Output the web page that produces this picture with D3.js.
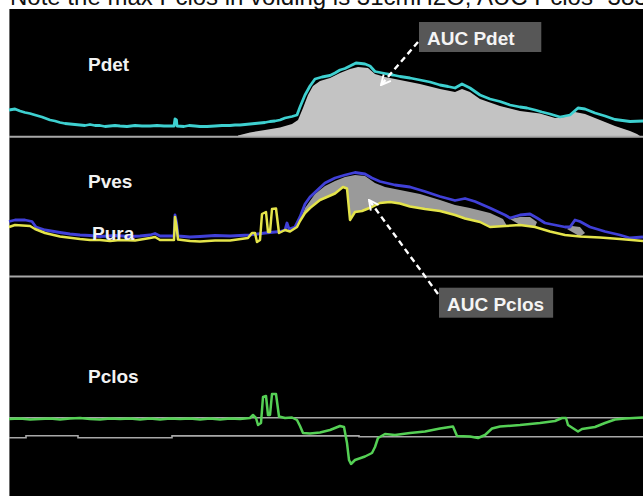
<!DOCTYPE html>
<html>
<head>
<meta charset="utf-8">
<script src="https://cdn.jsdelivr.net/npm/d3@7/dist/d3.min.js"></script>
<style>
  html, body { margin: 0; padding: 0; background: #ffffff; }
  svg { display: block; }
</style>
</head>
<body>
<svg id="chart" width="643" height="496"></svg>
<script>
// Urodynamic pressure traces: [time (s), pressure (cmH2O)]
const pdet = [[0,26],[1.2,27],[2.2,25],[3.2,23.5],[4.2,22.5],[5.2,21],[6.6,19],[8.2,16],[9.2,15],[10.2,13.5],[11.2,12.5],[12.2,12],[13.2,11.5],[14.2,11],[15.2,10.5],[16.2,11.5],[17.2,10.5],[18.2,10.5],[19.2,9.5],[20.2,10],[21.2,10.5],[22.2,10],[23.6,9.5],[25.2,10.5],[26.6,10],[28.2,10],[29.6,10.5],[31,10],[33,10],[33.2,17],[33.5,16],[33.6,10],[35,9.5],[36,10.5],[37.2,10],[38.2,9.5],[39.6,9.5],[41.2,10],[42.6,10.5],[44.2,10.5],[45.2,11],[46.2,11],[47.2,11.5],[48.2,12],[49.2,12.5],[50.2,13],[51.2,13.5],[52.2,14.5],[53.2,15],[54.2,16],[55.2,18],[56.6,19.5],[57.6,21],[58.2,29],[59.2,41],[60.2,50],[61.2,57],[62.6,59],[64.2,60.5],[65.2,63],[66.2,66],[67.2,67.5],[68.2,70],[69.4,73],[70.4,72.5],[71.2,72],[72.2,70],[73.2,64.5],[75.2,62.5],[76.8,61],[78.2,59.5],[80.2,58],[82.2,56],[84.2,54],[86.2,51],[87.8,49.5],[89.2,48],[90.6,52],[92.2,48],[94.2,41],[96.2,37],[98.2,34.5],[100.2,31],[102.2,29],[103.6,28],[105.2,26],[106.6,24],[108.2,22],[110.2,19],[112.2,21],[113.8,28],[115.2,27],[117.2,23],[119.2,20],[121.2,16.5],[124.2,14.5],[126.8,15]];

const pdetAucTop = [[45.8,0.5],[48.2,3.5],[51.2,6],[54.2,8.5],[56.6,12],[57.8,16],[58.8,28],[59.8,41],[60.8,50],[62.2,55],[64.2,58],[66.2,63],[68.2,67],[69.8,69],[71.8,68],[73.2,62],[75.2,59],[78.2,56],[82.2,52],[86.2,47],[89.2,44],[90.6,47],[92.2,44],[94.2,37],[98.2,30],[102.2,25],[106.2,22.5],[109.2,18],[111.2,19],[113.2,24],[115.2,22],[118.2,16],[121.2,10],[124.2,5],[125.6,2],[126.2,0]];

const pves = [[0,34.5],[1.2,36],[3.2,36],[4.6,34.5],[5.4,29],[7.2,26],[10.2,23.5],[12.2,22],[14.2,21],[16.2,20.5],[18.2,19.5],[21.2,20.5],[24.2,19.5],[26.2,20],[28.2,21],[29.2,22.5],[30.2,20],[33,20],[33.2,41],[33.5,34],[33.8,20],[36.2,19],[38.2,19.5],[41.2,20.5],[44.2,20],[48.2,21],[51.2,23],[54.2,24.5],[55.2,26],[55.6,33],[56,27],[57.2,29],[58.2,39],[59.2,52],[60.2,59],[61.8,66.5],[63.2,73],[65.2,78],[67.2,81],[69.2,83.5],[71.2,82],[72.6,78],[74.2,74.5],[77.2,71],[80.2,69],[83.2,64.5],[86.2,59.5],[89.2,55.5],[91.2,57.5],[93.2,54.5],[96.2,48],[99.2,41],[100.2,38],[102.2,41],[104.2,42],[105.6,38],[107.2,33],[111.2,29],[112.2,29],[113.2,36],[114.2,34.5],[116.2,29],[119.2,24.5],[122.2,21],[124.2,18],[126.8,19]];

const pura = [[0,29],[1.2,31],[4.2,30],[5.2,27],[7.2,23],[10.2,19.5],[14.2,17],[16.2,16],[18.2,16],[20.2,15],[22.2,16],[25.2,15.5],[28.2,18],[29.2,19],[30.2,16],[33,16],[33.2,39],[33.5,30],[33.8,16.5],[36.2,15],[38.2,14.5],[41.2,15.5],[44.2,15.5],[47.8,18],[48.6,23],[49.2,23],[49.6,14],[50.2,16],[50.6,42],[51.4,44],[51.8,24],[52.2,24],[52.6,47],[53.4,47.5],[54,23],[55.2,26],[56.2,24.5],[57.6,29],[58.2,35],[59.2,43],[60.2,48],[62.2,56],[65.2,62.5],[66.8,69],[67.6,67.5],[68.2,36],[69.2,44],[70.6,45],[72.6,49],[74.2,53],[76.2,54],[78.2,52.5],[80.2,49.5],[83.2,47],[86.2,45],[89.2,41],[91.2,37.5],[94.2,34],[96.2,29],[99.2,30],[102.2,31],[105.2,29],[108.2,24.5],[111.2,21],[114.2,19.5],[118.2,18.5],[122.2,17],[126.8,15]];

// Shaded closure-pressure regions (upper edge; lower edge follows Pura)
const pclosAucTops = [
  [[57.6,29],[59.2,48],[61.2,62],[63.2,70],[65.2,75],[67.2,79],[69.2,81],[71.2,80],[73.2,73],[75.2,69],[78.2,66],[82.2,62],[86.2,56],[89.2,51],[92.2,48],[96.2,43],[98.8,37],[99.6,30]],
  [[100.2,37],[102.2,39],[104.2,39],[105.6,34]],
  [[111.6,27],[112.6,30],[114.2,29],[115.2,23]]
];

const pclos = [[0,-1],[2.2,-0.5],[4.2,-1.5],[6.2,-1],[8.2,-0.5],[10.2,-1.5],[12.2,-0.5],[14.2,0],[16.2,-1],[18.2,-1.5],[20.2,-0.5],[22.2,-1],[24.2,-0.5],[26.2,-1.5],[28.2,-0.5],[30.2,-1.5],[32.2,-0.5],[34.2,-1],[36.2,-0.5],[38.2,-1.5],[40.2,-0.5],[42.2,-1.5],[44.2,-0.5],[46.2,-1],[48.2,0],[48.8,3],[49.4,0],[49.8,-7],[50.4,-5],[50.8,21],[51.4,22],[51.8,3],[52.2,3],[52.6,24],[53.4,24],[54,1.5],[55.2,0],[56.6,0.5],[57.6,-2],[58.2,-8],[58.8,-15],[60.2,-15.5],[62.2,-14.5],[64.2,-12],[66.2,-8],[67,-9],[67.6,-25],[68,-42],[68.4,-46],[69.2,-42],[71.2,-38.5],[72.6,-35],[73.2,-29],[73.8,-20],[75.2,-16],[77.2,-17],[80.2,-15],[83.2,-13.5],[86.2,-10.5],[88.8,-8.5],[89.6,-18],[92.2,-18.5],[93.8,-20],[95.2,-17],[96.6,-10.5],[98.2,-8.5],[102.2,-7],[106.2,-5],[109.2,-3],[110.6,0],[111.4,0],[111.8,-7],[113.8,-13.5],[114.6,-11],[117.2,-9],[119.2,-5],[121.2,-1.5],[123.2,-0.5],[126.8,0.5]];

// Lower reference level of the closure-pressure channel
const pclosRef = [[0,-19.7],[3.4,-17.7],[13.8,-19.7],[32.6,-17.9],[70,-18.7],[126.8,-18.7]];

const titleText = "Note the max Pclos in voiding is 31cmH2O; AUC Pclos -383";
const channelLabels = [
  { text: "Pdet", channel: "pdet", t: 15.8, value: 65 },
  { text: "Pves", channel: "pves", t: 15.8, value: 67.7 },
  { text: "Pura", channel: "pves", t: 16.6, value: 16 },
  { text: "Pclos", channel: "pclos", t: 15.8, value: 34.7 }
];
// callout text anchors and pointer ends, in channel coordinates
const callouts = [
  { text: "AUC Pdet", channel: "pdet", t: 83.6, v: 91, padR: 26,
    from: { channel: "pdet", t: 81.8, v: 94 }, to: { channel: "pdet", t: 74.4, v: 51 } },
  { text: "AUC Pclos", channel: "pclos", t: 87.6, v: 107.3, padR: 9,
    from: { channel: "pclos", t: 85.8, v: 124 }, to: { channel: "pves", t: 72, v: 56 } }
];

const svg = d3.select("#chart");
const W = 643, H = 496;

// time axis shared by all channels
const x = d3.scaleLinear().domain([0, 126.8]).range([9, 643]);
// per-channel pressure scales
const yPdet = d3.scaleLinear().domain([0, 80]).range([136, 56]);
const yPves = d3.scaleLinear().domain([0, 100]).range([256, 156]);
const yPclos = d3.scaleLinear().domain([-50, 30]).range([468, 388]);
const yOf = { pdet: yPdet, pves: yPves, pclos: yPclos };

// title strip
svg.append("text")
  .attr("x", 10).attr("y", 5)
  .attr("font-family", "Liberation Sans, Arial, sans-serif")
  .attr("font-size", 24)
  .attr("fill", "#111")
  .text(titleText);

// black display area
svg.append("rect").attr("x", 9).attr("y", 9).attr("width", W - 9).attr("height", H - 9).attr("fill", "#000");
svg.append("line").attr("x1", 9.5).attr("x2", 9.5).attr("y1", 9).attr("y2", H)
  .attr("stroke", "#6a6a6a").attr("stroke-width", 1);

const line = (ys) => d3.line().x(d => x(d[0])).y(d => ys(d[1]));

// ---- Pdet channel ----
svg.append("path")
  .datum(pdetAucTop)
  .attr("d", d3.area().x(d => x(d[0])).y0(yPdet(-0.5)).y1(d => yPdet(d[1])))
  .attr("fill", "#c3c3c3");

// channel baselines / separators
const hline = (y, w, c) => svg.append("line").attr("x1", 9).attr("x2", W).attr("y1", y).attr("y2", y)
  .attr("stroke", c || "#a8a8a8").attr("stroke-width", w);
hline(yPdet(-0.7), 2);
hline(yPves(-20.5), 2);
hline(yPclos(0.3), 1.6);
svg.append("path").datum(pclosRef)
  .attr("d", d3.line().x(d => x(d[0])).y(d => yPclos(d[1])).curve(d3.curveStepAfter))
  .attr("fill", "none").attr("stroke", "#a8a8a8").attr("stroke-width", 1.6);

svg.append("path").datum(pdet).attr("d", line(yPdet))
  .attr("fill", "none").attr("stroke", "#3ed0d0").attr("stroke-width", 2.8).attr("stroke-linejoin", "round");

// ---- Pves / Pura channel ----
const polyLine = d3.line().x(d => x(d[0])).y(d => yPves(d[1]));
pclosAucTops.forEach(top => {
  const t0 = top[0][0], t1 = top[top.length - 1][0];
  const lower = pura.filter(d => d[0] >= t0 && d[0] <= t1).reverse();
  svg.append("path")
    .attr("d", polyLine(top.concat(lower)) + "Z")
    .attr("fill", "#9a9a9a");
});
svg.append("path").datum(pves).attr("d", line(yPves))
  .attr("fill", "none").attr("stroke", "#4040d8").attr("stroke-width", 2.8).attr("stroke-linejoin", "round");
svg.append("path").datum(pura).attr("d", line(yPves))
  .attr("fill", "none").attr("stroke", "#e4e44a").attr("stroke-width", 2.5).attr("stroke-linejoin", "round");

// ---- Pclos channel ----
svg.append("path").datum(pclos).attr("d", line(yPclos))
  .attr("fill", "none").attr("stroke", "#55d055").attr("stroke-width", 2.5).attr("stroke-linejoin", "round");

// channel names
svg.selectAll("text.chan").data(channelLabels).enter().append("text")
  .attr("class", "chan")
  .attr("x", d => x(d.t))
  .attr("y", d => yOf[d.channel](d.value))
  .attr("font-family", "Liberation Sans, Arial, sans-serif")
  .attr("font-weight", "bold").attr("font-size", 19)
  .attr("fill", "#f2f2f2")
  .text(d => d.text);

// callouts with dashed pointers
const defs = svg.append("defs");
defs.append("marker").attr("id", "head")
  .attr("viewBox", "0 0 10 10").attr("refX", 9).attr("refY", 5)
  .attr("markerWidth", 5).attr("markerHeight", 5).attr("orient", "auto")
  .attr("markerUnits", "strokeWidth")
  .append("path").attr("d", "M1,1 L9,5 L1,9").attr("fill", "none")
  .attr("stroke", "#ffffff").attr("stroke-width", 1.6);

callouts.forEach(c => {
  svg.append("line")
    .attr("x1", x(c.from.t)).attr("y1", yOf[c.from.channel](c.from.v))
    .attr("x2", x(c.to.t)).attr("y2", yOf[c.to.channel](c.to.v))
    .attr("stroke", "#ffffff").attr("stroke-width", 2.4)
    .attr("stroke-dasharray", "6,4")
    .attr("marker-end", "url(#head)");
});

callouts.forEach(c => {
  const g = svg.append("g");
  const tx = g.append("text")
    .attr("x", x(c.t)).attr("y", yOf[c.channel](c.v))
    .attr("font-family", "Liberation Sans, Arial, sans-serif")
    .attr("font-weight", "bold").attr("font-size", 19)
    .attr("fill", "#f4f4f4")
    .text(c.text);
  const b = tx.node().getBBox();
  g.insert("rect", "text")
    .attr("x", b.x - 8).attr("y", b.y - 6)
    .attr("width", b.width + 8 + c.padR).attr("height", b.height + 9)
    .attr("fill", "#575757");
});
</script>
</body>
</html>
